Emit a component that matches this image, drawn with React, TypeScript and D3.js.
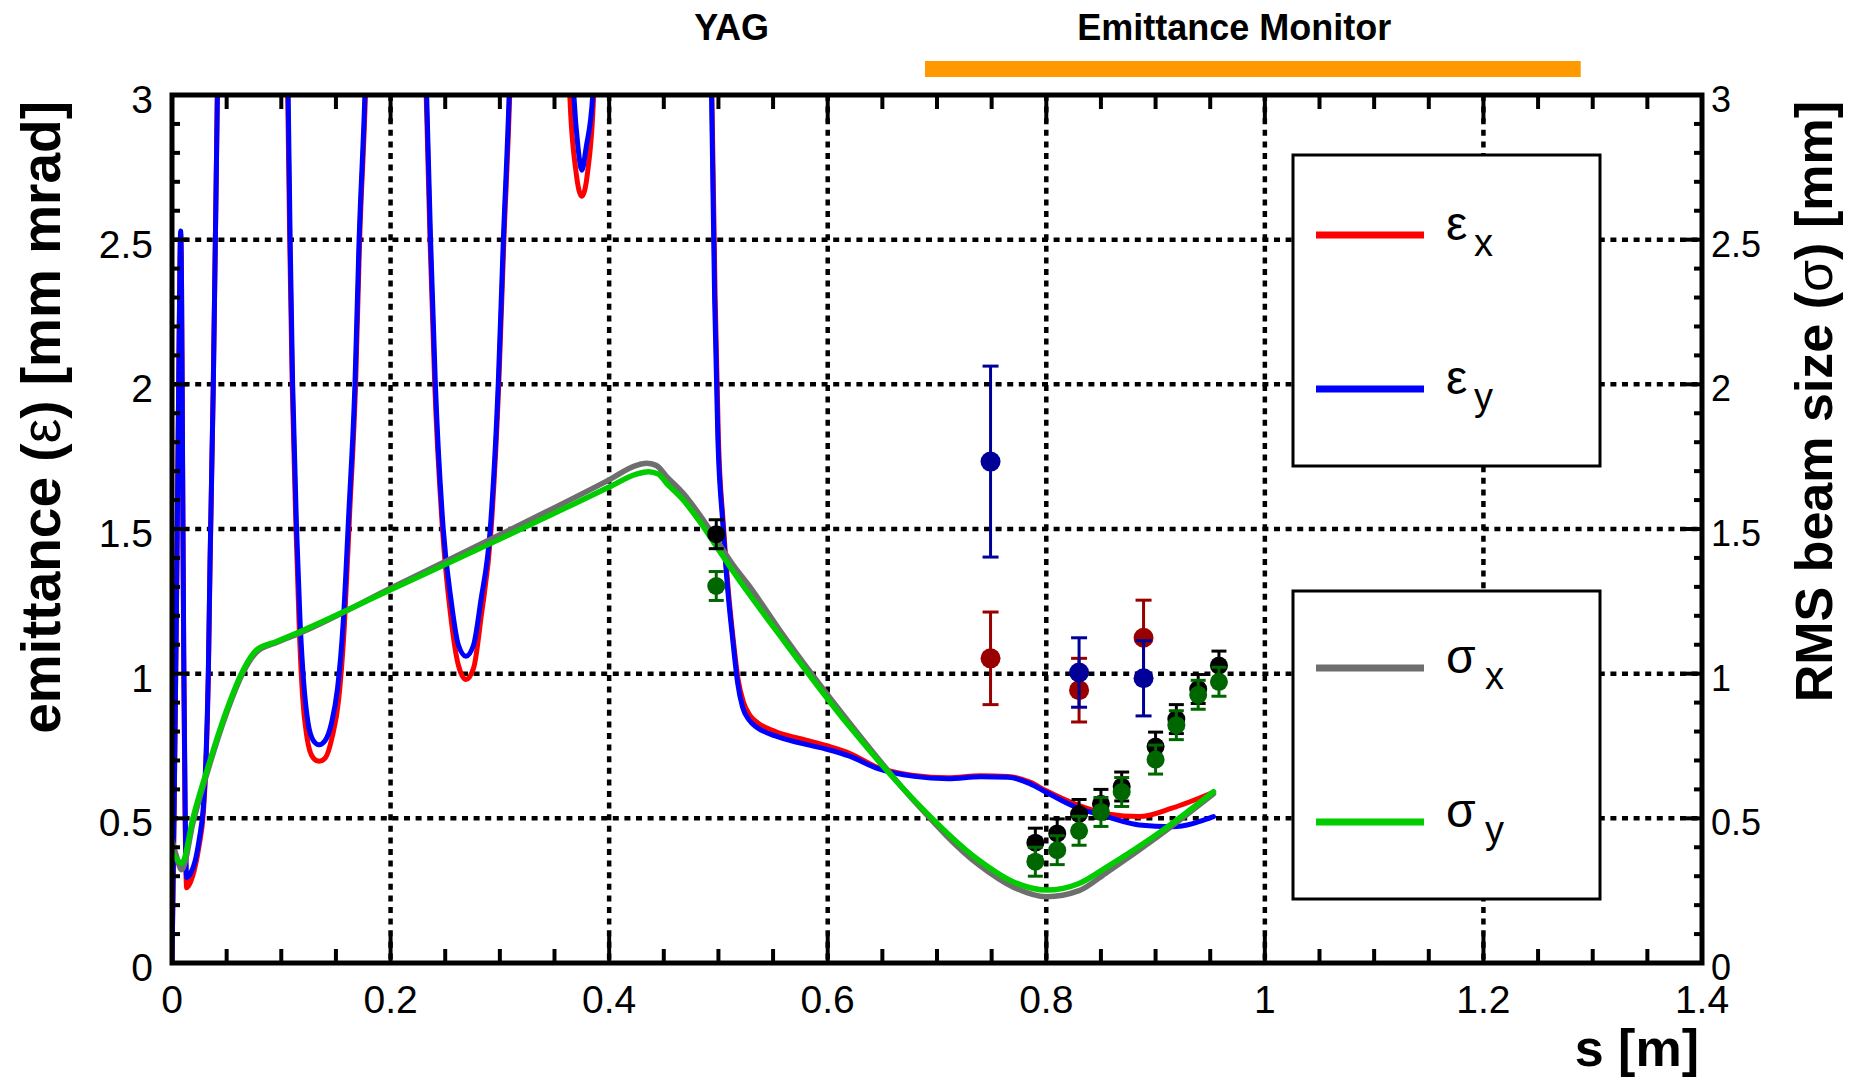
import React from "react";
import * as d3 from "d3";

// ---- layout ----
const W = 1860;
const H = 1077;
const PLOT = { left: 172, right: 1702, top: 95, bottom: 963 };
const FONT = "'Liberation Sans', Arial, Helvetica, sans-serif";

// ---- axes ----
const sDomain = [0, 1.4];
const vDomain = [0, 3];
const sTickLabels = ["0", "0.2", "0.4", "0.6", "0.8", "1", "1.2", "1.4"];
const sTickValues = [0, 0.2, 0.4, 0.6, 0.8, 1.0, 1.2, 1.4];
const vTickLabels = ["0", "0.5", "1", "1.5", "2", "2.5", "3"];
const vTickValues = [0, 0.5, 1, 1.5, 2, 2.5, 3];

// ---- simulated emittance, epsilon_x [mm mrad] vs s [m] ----
const epsX: [number, number][] = [
  [0, 0], [0.002, 0.55], [0.004, 1.2], [0.006, 1.95], [0.0072, 2.38], [0.0079, 2.52],
  [0.0087, 2.35], [0.0097, 1.7], [0.0108, 1.0], [0.012, 0.5], [0.0134, 0.26],
  [0.017, 0.28], [0.021, 0.33], [0.025, 0.41], [0.0287, 0.52], [0.031, 0.68],
  [0.0332, 0.98], [0.0348, 1.37], [0.0378, 2.0], [0.0415, 3.0], [0.046, 4.2],
  [0.1, 4.2], [0.1059, 3.0], [0.1077, 2.5], [0.11, 2.0], [0.1135, 1.5], [0.1165, 1.15],
  [0.1195, 0.92], [0.1235, 0.78], [0.129, 0.71], [0.1346, 0.697], [0.1405, 0.71],
  [0.1465, 0.78], [0.1525, 0.91], [0.1575, 1.15], [0.1625, 1.55], [0.168, 2.0],
  [0.1717, 2.5], [0.177, 3.0], [0.182, 3.8],
  [0.228, 3.8], [0.2326, 3.0], [0.2361, 2.5], [0.2404, 2.0], [0.2475, 1.5], [0.255, 1.2],
  [0.262, 1.03], [0.269, 0.98], [0.276, 1.02], [0.283, 1.2], [0.292, 1.5], [0.299, 2.0],
  [0.3037, 2.5], [0.309, 3.0], [0.314, 3.8],
  [0.36, 3.6], [0.364, 3.0], [0.3695, 2.74], [0.375, 2.65], [0.3805, 2.74], [0.3858, 3.0],
  [0.39, 3.6],
  [0.49, 3.6], [0.494, 3.0], [0.497, 2.3], [0.5, 1.81], [0.5044, 1.52], [0.509, 1.29],
  [0.5135, 1.12], [0.518, 0.98], [0.523, 0.9], [0.529, 0.855], [0.536, 0.83],
  [0.552, 0.8], [0.575, 0.775], [0.6, 0.75], [0.62, 0.725], [0.646, 0.675],
  [0.679, 0.648], [0.71, 0.64], [0.74, 0.647], [0.765, 0.645], [0.785, 0.625],
  [0.8, 0.595], [0.826, 0.55], [0.856, 0.515], [0.885, 0.506], [0.915, 0.535],
  [0.953, 0.59],
];

// ---- simulated emittance, epsilon_y ----
const epsY: [number, number][] = [
  [0, 0], [0.002, 0.55], [0.004, 1.2], [0.006, 1.95], [0.0072, 2.4], [0.0079, 2.53],
  [0.0087, 2.36], [0.0097, 1.72], [0.0108, 1.05], [0.012, 0.55], [0.0134, 0.295],
  [0.017, 0.31], [0.021, 0.35], [0.025, 0.43], [0.0287, 0.54], [0.031, 0.7],
  [0.0332, 1.0], [0.0348, 1.39], [0.0378, 2.0], [0.0415, 3.0], [0.046, 4.2],
  [0.1, 4.2], [0.1063, 3.0], [0.1081, 2.5], [0.1104, 2.0], [0.114, 1.5], [0.1172, 1.18],
  [0.1205, 0.97], [0.1245, 0.83], [0.1295, 0.768], [0.1346, 0.754], [0.14, 0.768],
  [0.146, 0.83], [0.1515, 0.95], [0.1567, 1.18], [0.1617, 1.55], [0.1674, 2.0],
  [0.1712, 2.5], [0.1765, 3.0], [0.182, 3.8],
  [0.228, 3.8], [0.233, 3.0], [0.2366, 2.5], [0.241, 2.0], [0.2482, 1.5], [0.2555, 1.25],
  [0.262, 1.1], [0.269, 1.06], [0.276, 1.1], [0.2825, 1.25], [0.2912, 1.5], [0.2985, 2.0],
  [0.3032, 2.5], [0.3085, 3.0], [0.314, 3.8],
  [0.362, 3.6], [0.3677, 3.0], [0.3715, 2.82], [0.375, 2.74], [0.379, 2.82], [0.385, 3.0],
  [0.39, 3.6],
  [0.49, 3.6], [0.4937, 3.0], [0.4965, 2.3], [0.4995, 1.81], [0.504, 1.52], [0.5085, 1.29],
  [0.513, 1.12], [0.5175, 0.97], [0.522, 0.885], [0.528, 0.84], [0.535, 0.815],
  [0.552, 0.785], [0.575, 0.76], [0.6, 0.738], [0.62, 0.715], [0.646, 0.672],
  [0.679, 0.645], [0.71, 0.637], [0.74, 0.644], [0.765, 0.642], [0.785, 0.62],
  [0.8, 0.59], [0.826, 0.54], [0.856, 0.505], [0.885, 0.477], [0.915, 0.471],
  [0.953, 0.506],
];

// ---- simulated RMS beam size, sigma_x [mm] ----
const sigX: [number, number][] = [
  [0, 0.425], [0.004, 0.37], [0.0088, 0.322], [0.0195, 0.49], [0.0348, 0.69],
  [0.05, 0.865], [0.0652, 1.005], [0.0775, 1.075], [0.0958, 1.108], [0.117, 1.14],
  [0.2, 1.295], [0.3, 1.48], [0.4, 1.67], [0.425, 1.72], [0.434, 1.727], [0.443, 1.72],
  [0.4526, 1.681], [0.4678, 1.623], [0.483, 1.548], [0.4983, 1.462], [0.5135, 1.375],
  [0.5288, 1.3], [0.556, 1.151], [0.62, 0.83], [0.679, 0.56], [0.738, 0.34],
  [0.77, 0.262], [0.8, 0.229], [0.83, 0.25], [0.856, 0.315], [0.903, 0.44],
  [0.953, 0.585],
];

// ---- simulated RMS beam size, sigma_y ----
const sigY: [number, number][] = [
  [0, 0.38], [0.004, 0.36], [0.009, 0.345], [0.0195, 0.506], [0.0348, 0.7],
  [0.05, 0.874], [0.0652, 1.013], [0.0775, 1.082], [0.0958, 1.111], [0.117, 1.145],
  [0.2, 1.29], [0.3, 1.465], [0.4, 1.645], [0.425, 1.69], [0.436, 1.698], [0.445, 1.69],
  [0.4526, 1.658], [0.4678, 1.6], [0.483, 1.525], [0.4983, 1.439], [0.5135, 1.353],
  [0.556, 1.133], [0.62, 0.817], [0.679, 0.563], [0.738, 0.356], [0.77, 0.28],
  [0.8, 0.252], [0.83, 0.275], [0.856, 0.333], [0.903, 0.449], [0.953, 0.592],
];

// ---- measured emittance ----
const emitMeasS = [0.749, 0.83, 0.889];
const emitMeasX = [1.053, 0.943, 1.124];
const emitMeasXErr = [0.16, 0.11, 0.13];
const emitMeasY = [1.733, 1.004, 0.984];
const emitMeasYErr = [0.33, 0.12, 0.13];

// ---- measured beam size ----
const sizeMeasS = [0.498, 0.79, 0.81, 0.83, 0.85, 0.869, 0.9, 0.919, 0.939, 0.958];
const sizeMeasX = [1.482, 0.416, 0.448, 0.515, 0.55, 0.61, 0.748, 0.843, 0.947, 1.028];
const sizeMeasY = [1.303, 0.35, 0.39, 0.457, 0.522, 0.591, 0.703, 0.822, 0.927, 0.972];
const sizeMeasErr = [0.05, 0.05, 0.05, 0.05, 0.05, 0.05, 0.05, 0.05, 0.05, 0.05];

// ---- beamline stations ----
const stationNames = ["YAG", "Emittance Monitor"];
const stationS = [0.512, 0.972];
const monitorSpan = [0.689, 1.289];

// ---- legend entries ----
const legendSymbols = ["ε", "ε", "σ", "σ"];
const legendSubs = ["x", "y", "x", "y"];

const COLORS = {
  epsX: "#ff0000",
  epsY: "#0000ff",
  sigX: "#6e6e6e",
  sigY: "#00cc00",
  measEpsX: "#990000",
  measEpsY: "#000099",
  measSigX: "#000000",
  measSigY: "#006600",
  bar: "#ff9900",
};

function ErrorPoint({ cx, cy, y0, y1, color, r, cap }: any) {
  return (
    <g>
      <line x1={cx} x2={cx} y1={y0} y2={y1} stroke={color} strokeWidth={3} />
      <line x1={cx - cap / 2} x2={cx + cap / 2} y1={y0} y2={y0} stroke={color} strokeWidth={3} />
      <line x1={cx - cap / 2} x2={cx + cap / 2} y1={y1} y2={y1} stroke={color} strokeWidth={3} />
      <circle cx={cx} cy={cy} r={r} fill={color} />
    </g>
  );
}

export default function App() {
  const x = d3.scaleLinear().domain(sDomain).range([PLOT.left, PLOT.right]);
  const y = d3.scaleLinear().domain(vDomain).range([PLOT.bottom, PLOT.top]);

  const line = d3
    .line<[number, number]>()
    .x((d) => x(d[0]))
    .y((d) => y(d[1]))
    .curve(d3.curveMonotoneX);

  const sMinor = d3.range(0, 29).map((i) => i * 0.05);
  const vMinor = d3.range(0, 31).map((i) => i * 0.1);

  const gridDash = "6 5.6";

  const legendColors = [COLORS.epsX, COLORS.epsY, COLORS.sigX, COLORS.sigY];
  const legendLineY = [235, 389, 668, 822];

  return (
    <div style={{ position: "absolute", left: 0, top: 0 }}>
      <svg width={W} height={H} viewBox={`0 0 ${W} ${H}`} style={{ display: "block", background: "#fff" }}>
        <defs>
          <clipPath id="plot-clip">
            <rect x={PLOT.left} y={PLOT.top} width={PLOT.right - PLOT.left} height={PLOT.bottom - PLOT.top} />
          </clipPath>
        </defs>
        <rect x={0} y={0} width={W} height={H} fill="#fff" />

        {/* station labels and monitor bar */}
        {stationNames.map((n, i) => (
          <text key={n} x={x(stationS[i])} y={40} textAnchor="middle" fontFamily={FONT} fontWeight="bold" fontSize={36} fill="#000">
            {n}
          </text>
        ))}
        <rect x={x(monitorSpan[0])} y={61} width={x(monitorSpan[1]) - x(monitorSpan[0])} height={16} fill={COLORS.bar} />

        {/* dotted grid */}
        {sTickValues.slice(1, -1).map((s) => (
          <line key={"gx" + s} x1={x(s)} x2={x(s)} y1={PLOT.top} y2={PLOT.bottom} stroke="#000" strokeWidth={4.5} strokeDasharray={gridDash} />
        ))}
        {vTickValues.slice(1, -1).map((v) => (
          <line key={"gy" + v} x1={PLOT.left} x2={PLOT.right} y1={y(v)} y2={y(v)} stroke="#000" strokeWidth={4.5} strokeDasharray={gridDash} />
        ))}

        {/* simulated curves */}
        <g clipPath="url(#plot-clip)" fill="none" strokeLinejoin="round" strokeLinecap="round">
          <path d={line(epsX) || ""} stroke={COLORS.epsX} strokeWidth={5} />
          <path d={line(epsY) || ""} stroke={COLORS.epsY} strokeWidth={5} />
          <path d={line(sigX) || ""} stroke={COLORS.sigX} strokeWidth={5.5} />
          <path d={line(sigY) || ""} stroke={COLORS.sigY} strokeWidth={5.5} />
        </g>

        {/* measured points */}
        {emitMeasS.map((s, i) => (
          <ErrorPoint key={"mx" + i} cx={x(s)} cy={y(emitMeasX[i])} y0={y(emitMeasX[i] - emitMeasXErr[i])} y1={y(emitMeasX[i] + emitMeasXErr[i])} color={COLORS.measEpsX} r={10} cap={16} />
        ))}
        {emitMeasS.map((s, i) => (
          <ErrorPoint key={"my" + i} cx={x(s)} cy={y(emitMeasY[i])} y0={y(emitMeasY[i] - emitMeasYErr[i])} y1={y(emitMeasY[i] + emitMeasYErr[i])} color={COLORS.measEpsY} r={10} cap={16} />
        ))}
        {sizeMeasS.map((s, i) => (
          <ErrorPoint key={"sx" + i} cx={x(s)} cy={y(sizeMeasX[i])} y0={y(sizeMeasX[i] - sizeMeasErr[i])} y1={y(sizeMeasX[i] + sizeMeasErr[i])} color={COLORS.measSigX} r={9} cap={15} />
        ))}
        {sizeMeasS.map((s, i) => (
          <ErrorPoint key={"sy" + i} cx={x(s)} cy={y(sizeMeasY[i])} y0={y(sizeMeasY[i] - sizeMeasErr[i])} y1={y(sizeMeasY[i] + sizeMeasErr[i])} color={COLORS.measSigY} r={9} cap={15} />
        ))}

        {/* legends */}
        <rect x={1293} y={155} width={307} height={311} fill="#fff" stroke="#000" strokeWidth={3} />
        <rect x={1293} y={591} width={307} height={308} fill="#fff" stroke="#000" strokeWidth={3} />
        {legendSymbols.map((sym, i) => {
          const ly = legendLineY[i];
          const subX = sym === "σ" ? 1485 : 1474;
          return (
            <g key={"lg" + i}>
              <line x1={1316} x2={1424} y1={ly} y2={ly} stroke={legendColors[i]} strokeWidth={7} />
              <text x={1446} y={ly + 5} fontFamily={FONT} fontSize={48} fill="#000">
                {sym}
              </text>
              <text x={subX} y={ly + 21} fontFamily={FONT} fontSize={38} fill="#000">
                {legendSubs[i]}
              </text>
            </g>
          );
        })}

        {/* ticks */}
        {sMinor.map((s, i) => {
          const len = i % 4 === 0 ? 27 : 14;
          return (
            <g key={"ts" + i}>
              <line x1={x(s)} x2={x(s)} y1={PLOT.bottom} y2={PLOT.bottom - len} stroke="#000" strokeWidth={4} />
              <line x1={x(s)} x2={x(s)} y1={PLOT.top} y2={PLOT.top + len} stroke="#000" strokeWidth={4} />
            </g>
          );
        })}
        {vMinor.map((v, i) => {
          const len = i % 5 === 0 ? 16 : 8;
          return (
            <g key={"tv" + i}>
              <line x1={PLOT.left} x2={PLOT.left + len} y1={y(v)} y2={y(v)} stroke="#000" strokeWidth={4} />
              <line x1={PLOT.right} x2={PLOT.right - len} y1={y(v)} y2={y(v)} stroke="#000" strokeWidth={4} />
            </g>
          );
        })}

        {/* frame */}
        <rect x={PLOT.left} y={PLOT.top} width={PLOT.right - PLOT.left} height={PLOT.bottom - PLOT.top} fill="none" stroke="#000" strokeWidth={5} />

        {/* tick labels */}
        {sTickValues.map((s, i) => (
          <text key={"lx" + i} x={x(s)} y={1013} textAnchor="middle" fontFamily={FONT} fontSize={39} fill="#000">
            {sTickLabels[i]}
          </text>
        ))}
        {vTickValues.map((v, i) => (
          <text key={"ly" + i} x={153} y={y(v) + 18} textAnchor="end" fontFamily={FONT} fontSize={39} fill="#000">
            {vTickLabels[i]}
          </text>
        ))}
        {vTickValues.map((v, i) => (
          <text key={"ry" + i} x={1711} y={y(v) + 17} textAnchor="start" fontFamily={FONT} fontSize={36} fill="#000">
            {vTickLabels[i]}
          </text>
        ))}

        {/* axis titles */}
        <text x={1699} y={1066} textAnchor="end" fontFamily={FONT} fontWeight="bold" fontSize={52} fill="#000">
          s [m]
        </text>
        <text transform="translate(60,101) rotate(-90)" textAnchor="end" fontFamily={FONT} fontWeight="bold" fontSize={55} fill="#000">
          emittance (<tspan fontWeight="normal">ε</tspan>) [mm mrad]
        </text>
        <text transform="translate(1832,101) rotate(-90)" textAnchor="end" fontFamily={FONT} fontWeight="bold" fontSize={52} fill="#000">
          RMS beam size (<tspan fontWeight="normal">σ</tspan>) [mm]
        </text>
      </svg>
    </div>
  );
}
